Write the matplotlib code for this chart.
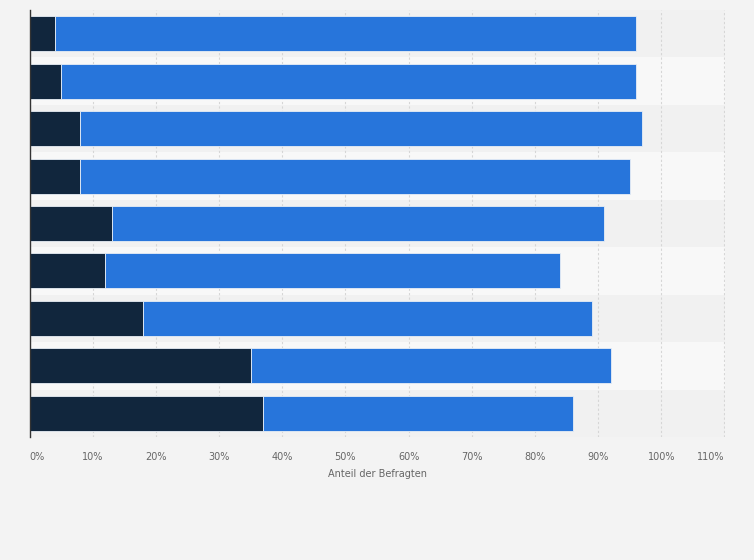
import matplotlib
matplotlib.use("Agg")
import matplotlib.pyplot as plt
import numpy as np

# Data (rows top to bottom)
categories = ["", "", "", "", "", "", "", "", ""]
series_dark = [4, 5, 8, 8, 13, 12, 18, 35, 37]
series_blue_total = [96, 96, 97, 95, 91, 84, 89, 92, 86]
series_blue = [t - d for t, d in zip(series_blue_total, series_dark)]
xticks = [0, 10, 20, 30, 40, 50, 60, 70, 80, 90, 100, 110]
xtick_labels = ["0%", "10%", "20%", "30%", "40%", "50%", "60%", "70%", "80%", "90%", "100%", "110%"]
xlabel = "Anteil der Befragten"

BG = "#f3f3f3"
DARK = "#11263d"
BLUE = "#2775db"

fig = plt.figure(figsize=(7.54, 5.60), dpi=100, facecolor=BG)
W, H = 754, 560
left, right, top, bottom = 29.5, 724.5, 10, 437
ax = fig.add_axes([left / W, 1 - bottom / H, (right - left) / W, (bottom - top) / H])
ax.set_facecolor(BG)

n = len(categories)
y = np.arange(n)
# alternating row bands
for i in range(n):
    ax.axhspan(i - 0.5, i + 0.5, color="#f1f1f1" if i % 2 == 0 else "#f8f8f8", zorder=0, lw=0)

ax.barh(y, series_dark, height=0.74, color=DARK, edgecolor="#e8eef5", linewidth=0.6, zorder=3)
ax.barh(y, series_blue, left=series_dark, height=0.74, color=BLUE, edgecolor="#e8eef5", linewidth=0.6, zorder=3)

ax.set_xlim(0, 110)
ax.set_ylim(n - 0.5, -0.5)
ax.set_yticks(y)
ax.set_yticklabels(categories)
ax.tick_params(axis="y", length=0)

ax.set_xticks(xticks)
ax.set_xticklabels(xtick_labels)
ax.tick_params(axis="x", length=0, pad=11, labelsize=7, colors="#666666")
lbls = ax.get_xticklabels()
lbls[0].set_ha("left")
lbls[-1].set_ha("right")
ax.grid(axis="x", color="#d6d6d6", linestyle=(0, (2, 2)), linewidth=0.8, zorder=1)
ax.set_axisbelow(True)

for s in ["top", "right", "bottom"]:
    ax.spines[s].set_visible(False)
ax.spines["left"].set_color("#333333")
ax.spines["left"].set_linewidth(1.0)
ax.spines["left"].set_zorder(6)

ax.set_xlabel(xlabel, fontsize=7, color="#666666", labelpad=5)

fig.savefig("out.png", dpi=100, facecolor=BG)
